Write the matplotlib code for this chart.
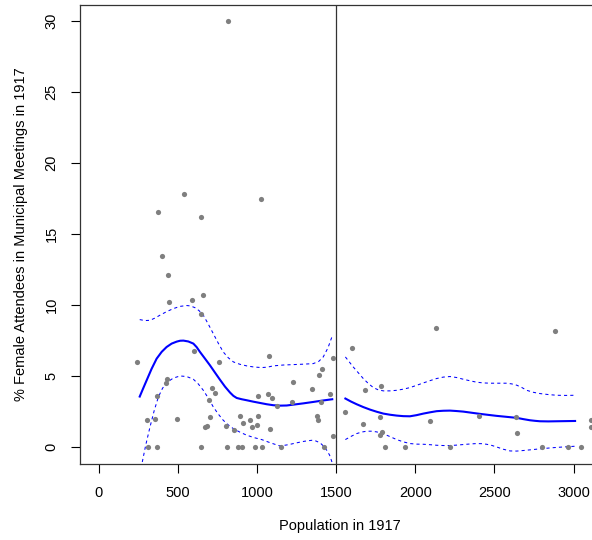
import matplotlib

matplotlib.use("Agg")
import matplotlib.pyplot as plt

# Scatter points: population in 1917 and % female attendees
population = [
    814, 536, 371, 647, 1027,
    397, 437, 445, 586, 656, 643,
    243, 599, 757, 1077, 1480,
    432, 422, 365, 713, 732, 696, 1008, 1071, 1096, 1128, 1227, 1221,
    1349, 1389, 1412, 1404, 1461,
    306, 355, 494, 702, 671, 683, 801, 852, 894, 913, 955, 968, 997,
    1008, 1083, 1381, 1383, 1480,
    312, 369, 643, 812, 881, 905, 985, 1033, 1151, 1421,
    2133, 2885, 1600, 1684, 1785, 1553, 1777, 1669, 2091, 2403, 2637,
    3109, 3109, 1787, 1779, 2645,
    1808, 1934, 2221, 2798, 2967, 3048,
]
female_pct = [
    30.0, 17.8, 16.6, 16.2, 17.5,
    13.5, 12.1, 10.2, 10.4, 10.7, 9.4,
    6.0, 6.8, 6.0, 6.4, 6.3,
    4.8, 4.5, 3.6, 4.2, 3.8, 3.3, 3.6, 3.75, 3.5, 2.9, 4.6, 3.2,
    4.1, 5.1, 5.5, 3.2, 3.75,
    1.9, 2.0, 2.0, 2.1, 1.4, 1.5, 1.5, 1.2, 2.2, 1.7, 1.9, 1.4, 1.6,
    2.2, 1.3, 2.2, 1.9, 0.8,
    0, 0, 0, 0, 0, 0, 0, 0, 0, 0,
    8.4, 8.2, 7.0, 4.0, 4.3, 2.5, 2.1, 1.65, 1.85, 2.2, 2.1,
    1.9, 1.4, 1.08, 0.85, 1.03,
    0, 0, 0, 0, 0, 0,
]

# Smoothed fit below the 1500 threshold
left_fit_x = [258, 280, 302, 333, 365, 397, 428, 460, 492, 513, 534, 565,
              597, 618, 639, 670, 702, 733, 765, 797, 829, 850, 871, 903,
              934, 976, 1018, 1060, 1102, 1145, 1187, 1229, 1292, 1355,
              1415, 1475]
left_fit_y = [3.57, 4.15, 4.72, 5.52, 6.24, 6.72, 7.06, 7.30, 7.44, 7.50,
              7.51, 7.45, 7.30, 7.05, 6.71, 6.25, 5.77, 5.27, 4.76, 4.27,
              3.85, 3.62, 3.47, 3.38, 3.31, 3.21, 3.12, 3.03, 2.96, 2.93,
              2.94, 3.0, 3.09, 3.19, 3.29, 3.38]
left_upper_x = [258, 290, 323, 355, 386, 428, 470, 512, 555, 580, 607, 633,
                660, 690, 723, 755, 786, 818, 850, 892, 934, 980, 1029, 1065,
                1102, 1165, 1229, 1292, 1355, 1390, 1418, 1448, 1475]
left_upper_y = [8.99, 8.92, 8.94, 9.10, 9.30, 9.55, 9.76, 9.92, 9.98, 9.95,
                9.83, 9.62, 9.30, 8.70, 8.0, 7.32, 6.71, 6.30, 6.01, 5.84,
                5.73, 5.65, 5.61, 5.64, 5.73, 5.79, 5.82, 5.85, 5.89, 6.05,
                6.36, 7.0, 7.84]
left_lower_x = [258, 270, 296, 323, 350, 376, 402, 428, 470, 513, 555, 597,
                628, 660, 692, 723, 755, 786, 818, 850, 892, 934, 980, 1029,
                1087, 1145, 1198, 1250, 1298, 1345, 1372, 1398, 1420, 1440,
                1458, 1475]
left_lower_y = [-1.9, -1.27, 0.15, 1.43, 2.60, 3.54, 4.15, 4.55, 4.87, 5.02,
                4.98, 4.79, 4.46, 4.01, 3.45, 2.84, 2.33, 1.90, 1.57, 1.31,
                1.06, 0.85, 0.68, 0.54, 0.30, 0.09, 0.18, 0.31, 0.42, 0.49,
                0.44, 0.31, 0.08, -0.21, -0.55, -1.1]

# Smoothed fit above the 1500 threshold
right_fit_x = [1558, 1593, 1629, 1671, 1714, 1756, 1798, 1840, 1882, 1924,
               1966, 2008, 2051, 2093, 2135, 2177, 2219, 2261, 2303, 2356,
               2409, 2461, 2514, 2578, 2641, 2683, 2725, 2757, 2788, 2841,
               2894, 2952, 3010]
right_fit_y = [3.43, 3.22, 3.03, 2.83, 2.65, 2.50, 2.37, 2.29, 2.23, 2.19,
               2.18, 2.26, 2.37, 2.46, 2.54, 2.57, 2.58, 2.55, 2.51, 2.43,
               2.35, 2.28, 2.21, 2.14, 2.07, 1.98, 1.90, 1.86, 1.83, 1.82,
               1.83, 1.84, 1.85]
right_upper_x = [1558, 1608, 1640, 1671, 1703, 1735, 1766, 1798, 1840, 1882,
                 1924, 1966, 2008, 2051, 2093, 2135, 2177, 2219, 2261, 2303,
                 2346, 2388, 2430, 2472, 2525, 2578, 2610, 2641, 2673, 2704,
                 2746, 2788, 2841, 2894, 2952, 3010]
right_upper_y = [6.36, 5.65, 5.24, 4.84, 4.49, 4.20, 4.04, 3.97, 3.97, 4.01,
                 4.09, 4.20, 4.36, 4.53, 4.69, 4.84, 4.94, 4.98, 4.91, 4.79,
                 4.68, 4.58, 4.53, 4.51, 4.51, 4.51, 4.46, 4.37, 4.21, 4.01,
                 3.87, 3.78, 3.71, 3.66, 3.65, 3.66]
right_lower_x = [1558, 1593, 1629, 1661, 1693, 1725, 1756, 1788, 1819, 1850,
                 1882, 1924, 1966, 2008, 2051, 2093, 2135, 2177, 2219, 2261,
                 2303, 2346, 2388, 2420, 2451, 2483, 2514, 2556, 2599, 2641,
                 2683, 2746, 2809, 2872, 2936, 3010]
right_lower_y = [0.54, 0.76, 0.96, 1.07, 1.13, 1.13, 1.08, 0.98, 0.85, 0.70,
                 0.54, 0.38, 0.26, 0.22, 0.21, 0.18, 0.14, 0.12, 0.12, 0.15,
                 0.19, 0.23, 0.26, 0.25, 0.21, 0.13, 0.02, -0.14, -0.26,
                 -0.27, -0.23, -0.16, -0.09, -0.03, 0.02, 0.07]

threshold = 1500
x_ticks = [0, 500, 1000, 1500, 2000, 2500, 3000]
y_ticks = [0, 5, 10, 15, 20, 25, 30]


def main():
    plt.rcParams["font.family"] = ["Liberation Sans", "DejaVu Sans"]
    plt.rcParams["font.size"] = 10.5

    fig = plt.figure(figsize=(5.92, 5.40), dpi=100)
    # axes box in pixels: left 80, right 600 (runs off the figure), top 4.5, bottom 464
    ax = fig.add_axes([80 / 592, (540 - 464) / 540, 520 / 592, (464 - 4.5) / 540])

    ax.scatter(population, female_pct, s=14, color="#7f7f7f", linewidths=0, zorder=3)

    ax.plot(left_fit_x, left_fit_y, color="blue", lw=1.5)
    ax.plot(right_fit_x, right_fit_y, color="blue", lw=1.5)
    for xs, ys in [(left_upper_x, left_upper_y), (left_lower_x, left_lower_y),
                   (right_upper_x, right_upper_y), (right_lower_x, right_lower_y)]:
        ax.plot(xs, ys, color="blue", lw=0.75, dashes=(3, 3))

    ax.axvline(threshold, color="#333333", lw=0.9)

    ax.set_xlim(-119.5, 3167.5)
    ax.set_ylim(-1.18, 31.18)
    ax.set_xticks(x_ticks)
    ax.set_yticks(y_ticks)
    ax.set_yticklabels([str(v) for v in y_ticks], rotation=90, va="center")
    ax.tick_params(direction="out", length=6.5, width=0.8, pad=9, colors="black")

    for spine in ax.spines.values():
        spine.set_linewidth(0.9)
        spine.set_color("#333333")

    ax.set_xlabel("Population in 1917", labelpad=14)
    ax.set_ylabel("% Female Attendees in Municipal Meetings in 1917", labelpad=12)

    fig.savefig("out.png", dpi=100)


if __name__ == "__main__":
    main()
